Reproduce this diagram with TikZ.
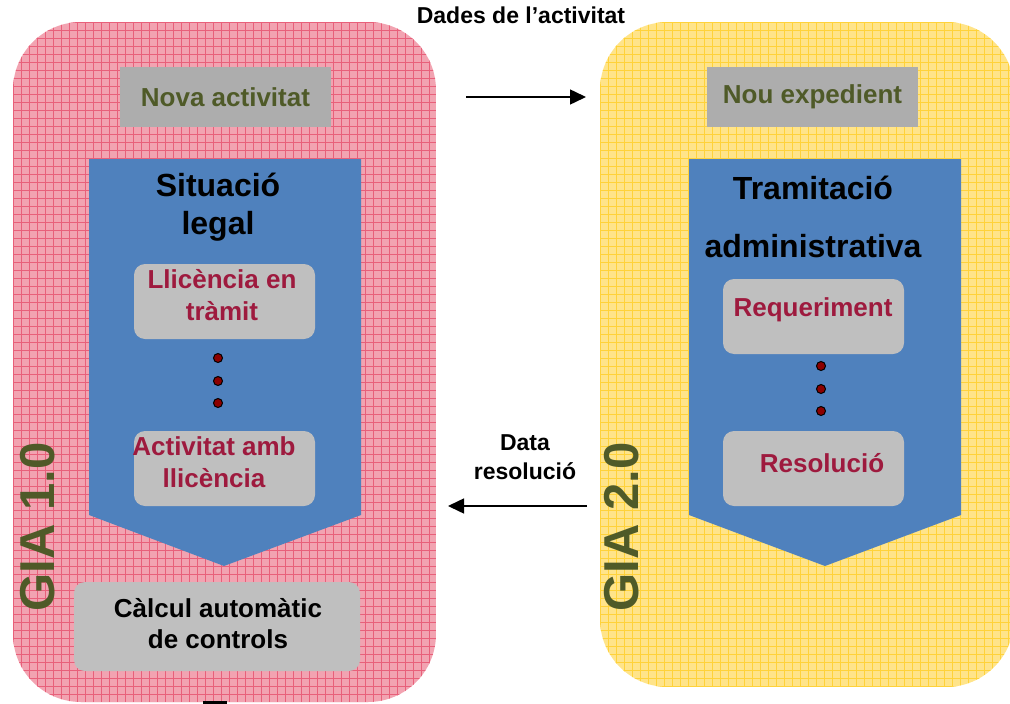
\documentclass[tikz,border=0pt]{standalone}
\usepackage{fontspec}
\setmainfont{Liberation Sans}
\usetikzlibrary{arrows.meta}
\definecolor{pinkbase}{HTML}{F2A3B1}
\definecolor{pinkline}{HTML}{E8607A}
\definecolor{yelbase}{HTML}{FFE48A}
\definecolor{yelline}{HTML}{FFD23A}
\definecolor{chev}{HTML}{4F81BD}
\definecolor{graytop}{HTML}{ADADAD}
\definecolor{graybox}{HTML}{BFBFBF}
\definecolor{olive}{HTML}{4F5A28}
\definecolor{crimson}{HTML}{9E1A3E}
\definecolor{dotred}{HTML}{8B0000}
\tikzset{
  topbox/.style={fill=graytop, minimum width=211pt, minimum height=60pt, inner sep=0pt,
    font=\bfseries\fontsize{26}{30}\selectfont, text=olive},
  itembox/.style={fill=graybox, rounded corners=11pt, minimum width=181pt, minimum height=75pt,
    inner sep=0pt},
  itemtext/.style={font=\bfseries\fontsize{26}{32}\selectfont, text=crimson, align=center},
  titletext/.style={font=\bfseries\fontsize{32}{38}\selectfont, text=black, align=center},
  giatext/.style={font=\bfseries\fontsize{49}{49}\selectfont, text=olive, rotate=90},
  dotmark/.style={circle, fill=dotred, draw=black, line width=1pt, minimum size=9pt, inner sep=0pt},
  labeltext/.style={font=\bfseries\fontsize{23}{29}\selectfont, align=center},
  flow/.style={line width=1.5pt, -{Triangle[length=16pt,width=15pt]}}
}
\begin{document}
\begin{tikzpicture}[x=1pt,y=-1pt]
\useasboundingbox (0,0) rectangle (1010,704);
% left panel
\begin{scope}
  \clip[rounded corners=68pt] (13,22) rectangle (436,702);
  \fill[pinkbase] (13,22) rectangle (436,702);
  \foreach \i in {0,...,53} {
    \draw[pinkline, line width=0.6pt] ({13+8*\i},22) -- ({13+8*\i},702);
  }
  \foreach \j in {0,...,85} {
    \draw[pinkline, line width=0.6pt] (13,{22+8*\j}) -- (436,{22+8*\j});
  }
\end{scope}
% right panel
\begin{scope}
  \clip[rounded corners=68pt] (600,22) rectangle (1014,687);
  \fill[yelbase] (600,22) rectangle (1014,687);
  \foreach \i in {0,...,52} {
    \draw[yelline, line width=0.6pt] ({600+8*\i},22) -- ({600+8*\i},687);
  }
  \foreach \j in {0,...,83} {
    \draw[yelline, line width=0.6pt] (600,{22+8*\j}) -- (1014,{22+8*\j});
  }
\end{scope}
% chevrons
\fill[chev] (89,159) -- (361,159) -- (361,515) -- (224,566) -- (89,515) -- cycle;
\fill[chev] (689,159) -- (961,159) -- (961,515) -- (825,566) -- (689,515) -- cycle;
% top boxes
\node[topbox] (nova) at (225.5,97) {Nova activitat};
\node[topbox] (nou) at (812.5,97) {Nou expedient};
% titles
\node[titletext] (sit) at (218,207) {Situació\\legal};
\node[titletext, font=\bfseries\fontsize{32}{58}\selectfont] (tram) at (813,217) {Tramitació\\administrativa};
% left items
\node[itembox] (llic) at (224.5,301.5) {};
\node[itemtext] at (222,295) {Llicència en\\tràmit};
\node[dotmark] (d1) at (218,358) {};
\node[dotmark] (d2) at (218,381) {};
\node[dotmark] (d3) at (218,403) {};
\node[itembox] (amb) at (224.5,468.5) {};
\node[itemtext] at (214,462) {Activitat amb\\llicència};
\node[itembox, minimum width=286pt, minimum height=89pt] (calc) at (217,626.5) {};
\node[itemtext, text=black, font=\bfseries\fontsize{26}{31}\selectfont] at (218,624) {Càlcul automàtic\\de controls};
% right items
\node[itembox] (req) at (813.5,316.5) {};
\node[itemtext] at (813,310) {Requeriment};
\node[dotmark] (e1) at (821,366) {};
\node[dotmark] (e2) at (821,389) {};
\node[dotmark] (e3) at (821,411) {};
\node[itembox] (res) at (813.5,468.5) {};
\node[itemtext] at (822,463) {Resolució};
% GIA labels
\node[giatext] (gia1) at (38,527) {GIA 1.0};
\node[giatext] (gia2) at (622,527) {GIA 2.0};
% connectors
\node[labeltext] (dades) at (521,15) {Dades de l’activitat};
\coordinate (a1) at (466,97);
\coordinate (a2) at (586,97);
\draw[flow] (a1) -- (a2);
\node[labeltext] (datares) at (525,457) {Data\\resolució};
\coordinate (b1) at (587,506);
\coordinate (b2) at (448,506);
\draw[flow] (b1) -- (b2);
% small black mark
\fill[black] (203,701) rectangle (227,704);
\end{tikzpicture}
\end{document}
